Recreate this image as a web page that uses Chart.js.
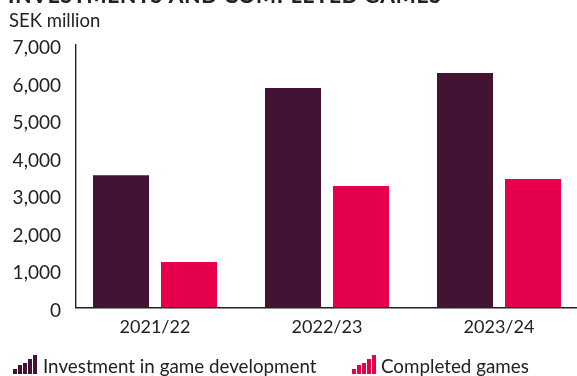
<!DOCTYPE html>
<html>
<head>
<meta charset="utf-8">
<title>Investments and completed games</title>
<script src="https://cdn.jsdelivr.net/npm/chart.js@4"></script>
<style>
  html, body { margin: 0; padding: 0; background: #fff; overflow: hidden; }
  #wrap { width: 577px; height: 376px; position: relative; }
</style>
</head>
<body>
<div id="wrap"><canvas id="myChart"></canvas></div>
<script>
'use strict';

const categories = ['2021/22', '2022/23', '2023/24'];
const investment = [3530, 5855, 6255];
const completed = [1215, 3240, 3425];
const yTicks = [0, 1000, 2000, 3000, 4000, 5000, 6000, 7000];

const titleText = 'INVESTMENTS AND COMPLETED GAMES';
const unitText = 'SEK million';

const dark = '#441232';
const pink = '#e6004c';
const textColor = '#222222';
const fontFamily = 'Lato, "Open Sans", sans-serif';

// small rising-bars icon used as the legend key
function barsIcon(color) {
  const c = document.createElement('canvas');
  c.width = 24;
  c.height = 19;
  const g = c.getContext('2d');
  g.fillStyle = color;
  [5, 9, 11, 15, 19].forEach((h, i) => g.fillRect(i * 5, 19 - h, 4, h));
  return c;
}

// title, unit and legend row sit outside the plot area
const pageText = {
  id: 'pageText',
  afterDraw(chart) {
    const c = chart.ctx;
    c.save();
    c.textBaseline = 'alphabetic';
    c.textAlign = 'left';
    c.fillStyle = textColor;
    c.font = '900 21px ' + fontFamily;
    c.letterSpacing = '0.8px';
    c.fillText(titleText, 8, 2.5);
    c.letterSpacing = '0px';
    c.font = '18.5px ' + fontFamily;
    c.fillText(unitText, 9, 27);

    const keys = [
      { x: 13, textX: 43 },
      { x: 352, textX: 381 }
    ];
    chart.data.datasets.forEach((ds, i) => {
      c.drawImage(barsIcon(ds.backgroundColor), keys[i].x, 355);
      c.fillStyle = textColor;
      c.font = '18.8px ' + fontFamily;
      c.fillText(ds.label, keys[i].textX, 373);
    });
    c.restore();
  }
};

let ctx = document.getElementById('myChart');

let myChart = new Chart(ctx, {
  type: 'bar',
  data: {
    datasets: [
      {
        label: 'Investment in game development',
        data: investment.map((v, i) => ({ x: i, y: v })),
        backgroundColor: dark
      },
      {
        label: 'Completed games',
        data: completed.map((v, i) => ({ x: i, y: v })),
        backgroundColor: pink
      }
    ]
  },
  options: {
    responsive: true,
    maintainAspectRatio: false,
    animation: false,
    layout: { padding: { top: 45, left: 0, right: 0, bottom: 0 } },
    datasets: {
      bar: { categoryPercentage: 0.7907, barPercentage: 0.8235 }
    },
    plugins: {
      legend: { display: false },
      title: { display: false },
      tooltip: { enabled: false }
    },
    scales: {
      x: {
        type: 'linear',
        offset: false,
        min: -0.4593,
        max: 2.4535,
        afterFit(scale) { scale.height = 68.5; },
        afterBuildTicks(scale) {
          scale.ticks = categories.map((_, i) => ({ value: i }));
        },
        grid: { display: false, drawTicks: false },
        border: { display: true, color: textColor, width: 1.4 },
        ticks: {
          autoSkip: false,
          maxRotation: 0,
          padding: 9,
          color: textColor,
          font: { family: fontFamily, size: 18 },
          callback: v => categories[v]
        }
      },
      y: {
        min: 0,
        max: 7000,
        afterFit(scale) { scale.width = 76; },
        afterBuildTicks(scale) {
          scale.ticks = yTicks.map(v => ({ value: v }));
        },
        grid: { display: false, drawTicks: false },
        border: { display: true, color: textColor, width: 1.4 },
        ticks: {
          padding: 15,
          color: textColor,
          labelOffset: 3,
          font: { family: fontFamily, size: 19 },
          callback: v => v.toLocaleString('en-US')
        }
      }
    }
  },
  plugins: [pageText]
});
</script>
</body>
</html>
